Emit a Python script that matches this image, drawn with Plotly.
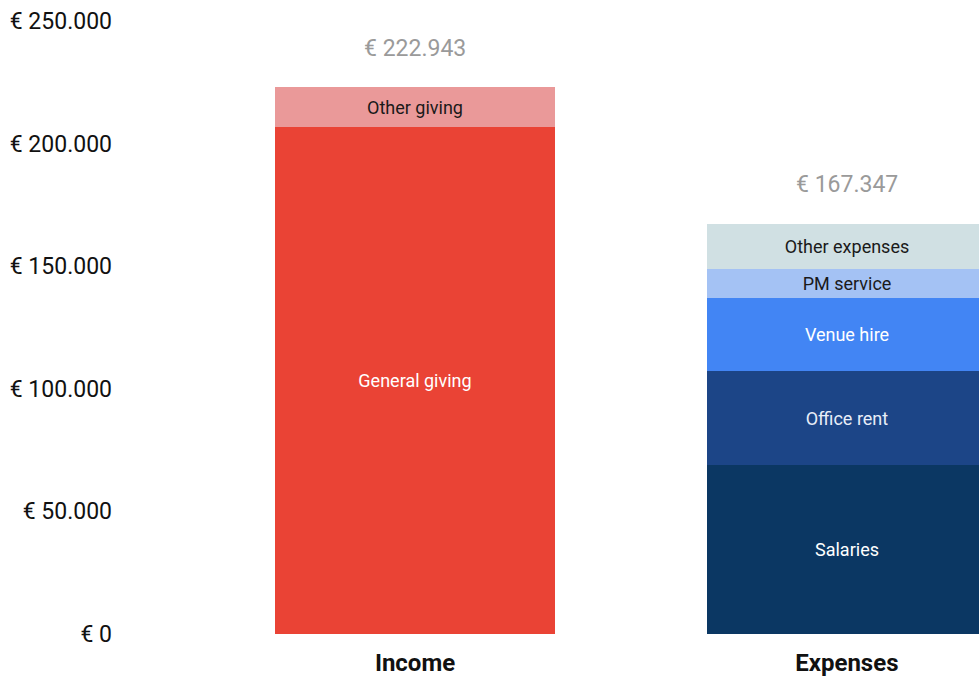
import plotly.graph_objects as go

categories = ["Income", "Expenses"]

income_labels = ["General giving", "Other giving"]
income_values = [206600, 16343]
income_colors = ["#EA4335", "#EA9999"]
income_text_colors = ["#FFFFFF", "#1A1A1A"]

expense_labels = ["Salaries", "Office rent", "Venue hire", "PM service", "Other expenses"]
expense_values = [69000, 38400, 29500, 12100, 18347]
expense_colors = ["#0B3763", "#1C4587", "#4285F4", "#A4C2F4", "#D0E0E3"]
expense_text_colors = ["#FFFFFF", "#E8EEF8", "#FFFFFF", "#1A1A1A", "#1A1A1A"]

y_ticks = [0, 50000, 100000, 150000, 200000, 250000]


def euro(v):
    return "€ " + f"{v:,}".replace(",", ".")


FONT = "Roboto"
BAR_W = 0.648

fig = go.Figure()


def add_stack(cat, labels, values, colors, tcolors):
    for lab, val, col, tc in zip(labels, values, colors, tcolors):
        fig.add_trace(go.Bar(
            x=[cat], y=[val], name=lab, width=BAR_W,
            marker=dict(color=col, line=dict(width=0)),
            text=[lab], textposition="inside", insidetextanchor="middle",
            textangle=0, constraintext="none",
            textfont=dict(family=FONT, size=18, color=tc),
            hoverinfo="skip", showlegend=False,
        ))


add_stack(categories[0], income_labels, income_values, income_colors, income_text_colors)
add_stack(categories[1], expense_labels, expense_values, expense_colors, expense_text_colors)

totals = [sum(income_values), sum(expense_values)]
for cat, tot in zip(categories, totals):
    fig.add_annotation(
        x=cat, y=tot, text=euro(tot),
        showarrow=False, yanchor="middle", yshift=39,
        font=dict(family=FONT, size=23, color="#9A9A9A"),
    )

fig.update_layout(
    width=979, height=678,
    margin=dict(l=130, r=0, t=21, b=44),
    barmode="stack", bargap=0,
    paper_bgcolor="white", plot_bgcolor="white",
    separators=",.",
    font=dict(family=FONT),
    uniformtext=dict(minsize=18, mode="show"),
)
fig.update_xaxes(
    type="category", range=[-0.66, 1.306],
    showgrid=False, zeroline=False, showline=False, ticks="",
    tickfont=dict(family=FONT, size=24, color="#111111", weight="bold"),
    ticklabelstandoff=12,
)
fig.update_yaxes(
    range=[0, 250000], tickvals=y_ticks,
    ticktext=[euro(v) for v in y_ticks],
    showgrid=False, zeroline=False, showline=False, ticks="",
    tickfont=dict(family=FONT, size=23, color="#111111"),
    ticklabelstandoff=17,
)

fig.write_html(
    "out.html",
    config={"displayModeBar": False},
    post_script="document.body.style.margin='0';document.body.style.overflow='hidden';",
)
